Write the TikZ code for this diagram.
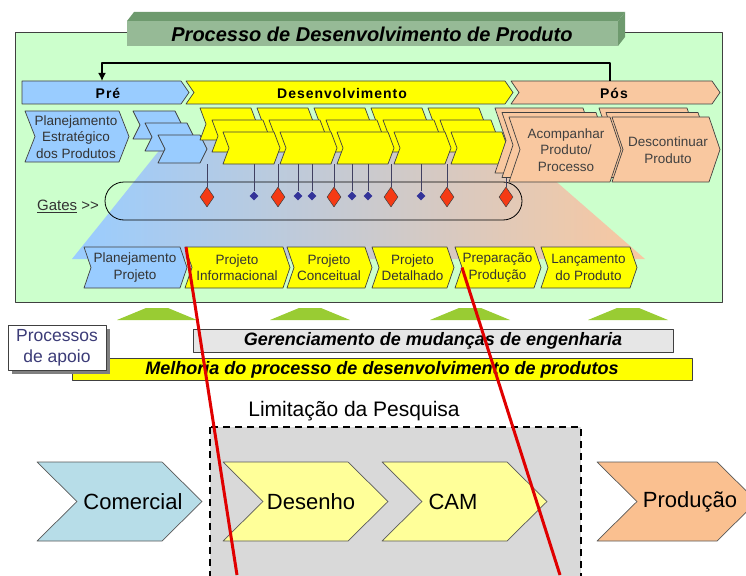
\documentclass[tikz,border=0pt]{standalone}
\usepackage{fontspec}
\setmainfont{Liberation Sans}
\usetikzlibrary{shapes.geometric,arrows.meta}

\definecolor{boxgreen}{HTML}{CCFFCC}
\definecolor{prebl}{HTML}{99CCFF}
\definecolor{devyel}{HTML}{FFFF00}
\definecolor{posor}{HTML}{F9C8A0}
\definecolor{bannerfront}{HTML}{96BA96}
\definecolor{bannerside}{HTML}{6E9A6E}
\definecolor{stemcol}{HTML}{404060}
\definecolor{redgatecol}{HTML}{F53A14}
\definecolor{bluegatecol}{HTML}{333399}
\definecolor{hillcol}{HTML}{99CC33}
\definecolor{barcol}{HTML}{E6E6E6}
\definecolor{limitcol}{HTML}{D9D9D9}
\definecolor{comcol}{HTML}{B7DDE8}
\definecolor{lightyel}{HTML}{FFFF99}
\definecolor{prodcol}{HTML}{FAC090}
\definecolor{cutred}{HTML}{E00000}
\definecolor{txtgray}{HTML}{333333}
\definecolor{apoiocol}{HTML}{3C3C78}
\definecolor{edgecol}{HTML}{404040}

\tikzset{
  chevline/.style={draw=edgecol, line width=0.7pt},
  bchev/.style={chevline, fill=prebl},
  ychev/.style={chevline, fill=devyel},
  pchev/.style={chevline, fill=posor},
  ctxt/.style={font=\fontsize{13.5}{16.5}\selectfont, text=txtgray, align=center, inner sep=0pt},
  ptxt/.style={font=\fontsize{14}{16}\selectfont\bfseries\addfontfeature{LetterSpace=7}, text=black, inner sep=0pt},
  bigtxt/.style={font=\fontsize{22}{26}\selectfont, text=black, inner sep=0pt},
  bartxt/.style={font=\fontsize{18}{20}\selectfont\bfseries\itshape, text=black, inner sep=0pt},
  redgate/.style={shape=diamond, fill=redgatecol, draw=edgecol, line width=0.5pt, minimum width=14pt, minimum height=20pt, inner sep=0pt},
  bluegate/.style={shape=diamond, fill=bluegatecol, minimum width=9pt, minimum height=9pt, inner sep=0pt},
  stem/.style={draw=stemcol, line width=1pt},
  cut/.style={draw=cutred, line width=3pt},
}

% chevron: x, y, body width, height, point depth, style
\newcommand{\chev}[6]{%
  \draw[#6] (#1,#2) -- ++(#3,0) -- ++(#5,#4/2) -- ++(-#5,#4/2) -- ++(-#3,0) -- ++(#5,-#4/2) -- cycle;}

\begin{document}
\begin{tikzpicture}[x=1pt, y=-1pt, line join=round]
  \useasboundingbox (0,0) rectangle (746,575);
  \clip (0,0) rectangle (746,575);

  % outer process box and title banner
  \draw[fill=boxgreen, draw=edgecol, line width=0.8pt] (15,32) rectangle (722,302);
  \fill[bannerside] (127,21) -- (134,12) -- (625,12) -- (618,21) -- cycle;
  \fill[bannerside] (618,21) -- (625,12) -- (625,37) -- (618,46) -- cycle;
  \fill[bannerfront] (127,21) rectangle (618,46);
  \node[font=\fontsize{20}{22}\selectfont\bfseries\itshape, inner sep=0pt] (title) at (372,34) {Processo de Desenvolvimento de Produto};

  % shaded background
  \shade[left color=prebl, right color=posor] (170,137) -- (505,137) -- (645,259) -- (72,259) -- cycle;

  % phase bar
  \draw[bchev] (22,81) -- (181,81) -- (189,92.5) -- (181,104) -- (22,104) -- cycle;
  \chev{186}{81}{319}{23}{8}{ychev}
  \chev{511}{81}{201}{23}{8}{pchev}
  \node[ptxt] (pre) at (108,93) {Pré};
  \node[ptxt] (desenv) at (342,93) {Desenvolvimento};
  \node[ptxt] (pos) at (614,93) {Pós};
  \coordinate (fbR) at (610,81);
  \coordinate (fbL) at (102,81);
  \draw[line width=2pt, -{Latex[length=8pt,width=8pt]}] (fbR) -- (610,63) -| (fbL);

  % pre stage
  \chev{25}{111}{94}{51}{10}{bchev}
  \node[ctxt] (planest) at (76,137) {Planejamento\\Estratégico\\dos Produtos};
  \chev{133}{111}{42}{28}{7}{bchev}
  \chev{145}{123}{42}{28}{7}{bchev}
  \chev{158}{135}{42}{28}{7}{bchev}

  % development stacks
  \foreach \i in {0,...,4}
    \chev{200+57*\i}{108}{51}{32}{6}{ychev};
  \foreach \i in {0,...,4}
    \chev{212+57*\i}{120}{51}{32}{6}{ychev};
  \foreach \i in {0,...,4}
    \chev{223+57*\i}{132}{51}{32}{6}{ychev};

  % post stacks
  \chev{495}{108}{88}{65}{11}{pchev}
  \chev{599}{108}{88}{65}{11}{pchev}
  \chev{502}{112.5}{94}{65}{11}{pchev}
  \chev{606}{112.5}{92}{65}{11}{pchev}
  \chev{509}{117}{101}{65}{11}{pchev}
  \chev{612}{117}{97}{65}{11}{pchev}
  \node[ctxt, text=edgecol] (acomp) at (566,150) {Acompanhar\\Produto/\\Processo};
  \node[ctxt, text=edgecol] (descont) at (668,150) {Descontinuar\\Produto};

  % gates
  \draw[draw=black, line width=0.8pt, rounded corners=19pt] (105,182) rectangle (522,220);
  \node[font=\fontsize{15}{18}\selectfont, text=txtgray, inner sep=0pt] (gates) at (68,206) {\underline{Gates} >{}>};
  \foreach \gx [count=\k] in {207,278,334,391,447} {
    \node[redgate] (r\k) at (\gx,197) {};
    \draw[stem] (\gx,164) -- (r\k.north);
  }
  \node[redgate] (r6) at (506,197) {};
  \draw[stem] (506,178) -- (r6.north);
  \foreach \gx [count=\k] in {254,298,312,352,368,421} {
    \node[bluegate] (b\k) at (\gx,196) {};
    \draw[stem] (\gx,164) -- (b\k.north);
  }

  % project phases
  \foreach \lx/\w/\c/\t [count=\k] in {84/96/prebl/{Planejamento\\Projeto}, 185/98/devyel/{Projeto\\Informacional}, 287/78/devyel/{Projeto\\Conceitual}, 372/75/devyel/{Projeto\\Detalhado}, 455/79/devyel/{Preparação\\Produção}, 541/89/devyel/{Lançamento\\do Produto}} {
    \chev{\lx}{247}{\w}{41}{7}{chevline, fill=\c}
    \node[ctxt] (ph\k) at (\lx+\w/2+3,267.5) {\t};
  }

  % support processes
  \foreach \hx in {157,310,470,628}
    \fill[hillcol] (\hx-40,320) -- (\hx-11,308) -- (\hx+11,308) -- (\hx+40,320) -- cycle;
  \draw[fill=barcol, draw=edgecol, line width=0.8pt] (193,329) rectangle (673,352);
  \node[bartxt] (gerenc) at (433,341) {Gerenciamento de mudanças de engenharia};
  \draw[fill=devyel, draw=edgecol, line width=0.8pt] (72,358) rectangle (692,380);
  \node[bartxt] (melhoria) at (382,369.5) {Melhoria do processo de desenvolvimento de produtos};
  \fill[gray] (12,329) rectangle (110,374);
  \draw[fill=white, draw=edgecol, line width=0.8pt] (8,325) rectangle (106,370);
  \node[font=\fontsize{17.5}{21}\selectfont, text=apoiocol, align=center, inner sep=0pt] (apoio) at (57,347.5) {Processos\\de apoio};

  % research scope
  \node[font=\fontsize{21}{24}\selectfont, inner sep=0pt] (limit) at (354,411) {Limitação da Pesquisa};
  \draw[fill=limitcol, draw=black, line width=1.6pt, dash pattern=on 7pt off 5pt] (210,427) rectangle (581,600);
  \chev{37}{462}{125}{79}{40}{draw=gray!70!black, line width=0.7pt, fill=comcol}
  \chev{223}{462}{125}{79}{40}{draw=gray!70!black, line width=0.7pt, fill=lightyel}
  \chev{382}{462}{125}{79}{40}{draw=gray!70!black, line width=0.7pt, fill=lightyel}
  \chev{597}{462}{120}{79}{40}{draw=gray!70!black, line width=0.7pt, fill=prodcol}
  \node[bigtxt] (comercial) at (133,502) {Comercial};
  \node[bigtxt] (desenho) at (311,502) {Desenho};
  \node[bigtxt] (cam) at (453,502) {CAM};
  \node[bigtxt] (producao) at (690,502) {Produção};

  % cut lines
  \coordinate (cutA) at (186,247);
  \coordinate (cutAend) at (237,575);
  \coordinate (cutB) at (462,267.5);
  \coordinate (cutBend) at (560,575);
  \draw[cut] (cutA) -- (cutAend);
  \draw[cut] (cutB) -- (cutBend);
\end{tikzpicture}
\end{document}
